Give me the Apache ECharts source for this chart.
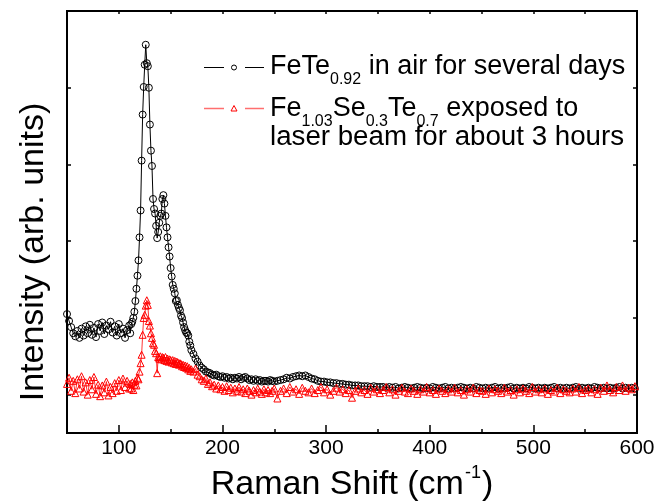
<!DOCTYPE html>
<html>
<head>
<meta charset="utf-8">
<script src="https://cdn.jsdelivr.net/npm/echarts@6/dist/echarts.min.js"></script>
<style>
  html, body { margin: 0; padding: 0; background: #fff; }
  #raman { width: 668px; height: 503px; }
</style>
</head>
<body>
<div id="raman"></div>
<script>
  // Raman shift (cm-1)
  const ramanShift = [
    50, 52, 54, 56, 58, 60, 62, 64, 66, 68,
    70, 72, 74, 76, 78, 80, 82, 84, 86, 88,
    90, 92, 94, 96, 98, 100, 102, 104, 106, 108,
    110,
    111, 112, 113, 114, 115, 116, 117, 118, 119, 120,
    121, 122, 123, 124, 125, 126, 127, 128, 129, 130,
    131, 132, 133, 134, 135, 136, 137, 138, 139, 140,
    141, 142, 143, 144, 145, 146, 147, 148, 149, 150,
    151, 152, 153, 154, 155, 156, 157, 158, 159, 160,
    161, 162, 163, 164, 165, 166, 167, 168, 169, 170,
    172, 174, 176, 178, 180, 182, 184, 186, 188, 190,
    192, 194, 196, 198, 200, 202, 204, 206, 208, 210,
    212, 214, 216, 218, 220, 222, 224, 226, 228, 230,
    232, 234, 236, 238, 240, 242, 244, 246, 248, 250,
    253, 256, 259, 262, 265, 268, 271, 274, 277, 280, 283, 286,
    289, 292, 295, 298, 301, 304, 307, 310, 313, 316, 319, 322,
    325, 328, 331, 334, 337, 340, 343, 346, 349, 352, 355, 358,
    361, 364, 367, 370, 373, 376, 379, 382, 385, 388, 391, 394,
    397, 400, 403, 406, 409, 412, 415, 418, 421, 424, 427, 430,
    433, 436, 439, 442, 445, 448, 451, 454, 457, 460, 463, 466,
    469, 472, 475, 478, 481, 484, 487, 490, 493, 496, 499, 502,
    505, 508, 511, 514, 517, 520, 523, 526, 529, 532, 535, 538,
    541, 544, 547, 550, 553, 556, 559, 562, 565, 568, 571, 574,
    577, 580, 583, 586, 589, 592, 595, 598
  ];

  // FeTe0.92 in air for several days
  const feTeAir = [
    1.55, 1.46, 1.38, 1.30, 1.26, 1.33, 1.24, 1.36, 1.27, 1.39,
    1.30, 1.41, 1.28, 1.37, 1.25, 1.42, 1.33, 1.44, 1.29, 1.40,
    1.35, 1.45, 1.31, 1.39, 1.27, 1.42, 1.30, 1.36, 1.24, 1.34,
    1.40,
    1.30, 1.42, 1.45, 1.50, 1.58, 1.72, 1.88, 2.05, 2.25, 2.55,
    2.90, 3.55, 4.15, 4.51, 4.80, 5.06, 4.82, 4.78, 4.50, 4.02,
    3.68, 3.48, 3.05, 2.92, 2.86, 2.70, 2.54, 2.62, 2.74, 2.83,
    2.86, 3.05, 3.10, 2.99, 2.83, 2.68, 2.55, 2.42, 2.30, 2.15,
    2.04, 1.93, 1.88, 1.82, 1.72, 1.73, 1.67, 1.63, 1.60, 1.53,
    1.50, 1.44, 1.38, 1.34, 1.31, 1.30, 1.27, 1.19, 1.14, 1.08,
    1.03, 0.97, 0.93, 0.88, 0.85, 0.83, 0.80, 0.79, 0.78, 0.76,
    0.75, 0.76, 0.74, 0.73, 0.74, 0.72, 0.73, 0.71, 0.72, 0.70,
    0.72, 0.71, 0.73, 0.70, 0.72, 0.73, 0.71, 0.69, 0.70, 0.68,
    0.70, 0.68, 0.69, 0.67, 0.68, 0.68, 0.67, 0.69, 0.68, 0.67,
    0.68, 0.69, 0.70, 0.72, 0.71, 0.73, 0.74, 0.75, 0.74, 0.75, 0.73, 0.71,
    0.70, 0.68, 0.67, 0.67, 0.66, 0.66, 0.65, 0.65, 0.64, 0.64, 0.63, 0.63,
    0.62, 0.62, 0.62, 0.61, 0.61, 0.61, 0.60, 0.61, 0.60, 0.60, 0.60, 0.59,
    0.60, 0.59, 0.60, 0.58, 0.59, 0.60, 0.59, 0.58, 0.59, 0.60, 0.59, 0.58,
    0.59, 0.58, 0.60, 0.59, 0.58, 0.59, 0.60, 0.58, 0.59, 0.58, 0.59, 0.60,
    0.59, 0.58, 0.59, 0.58, 0.60, 0.59, 0.58, 0.59, 0.58, 0.59, 0.60, 0.58,
    0.59, 0.58, 0.59, 0.60, 0.58, 0.59, 0.58, 0.59, 0.58, 0.60, 0.59, 0.58,
    0.59, 0.58, 0.59, 0.58, 0.59, 0.60, 0.58, 0.59, 0.58, 0.59, 0.58, 0.59,
    0.60, 0.58, 0.59, 0.58, 0.59, 0.58, 0.60, 0.59, 0.58, 0.59, 0.58, 0.59,
    0.58, 0.59, 0.60, 0.58, 0.59, 0.58, 0.59, 0.58
  ];

  // Fe1.03Se0.3Te0.7 exposed to laser beam for about 3 hours
  const feSeTeLaser = [
    0.64, 0.72, 0.55, 0.68, 0.52, 0.70, 0.58, 0.74, 0.54, 0.66,
    0.50, 0.69, 0.57, 0.73, 0.51, 0.63, 0.48, 0.62, 0.53, 0.67,
    0.49, 0.60, 0.52, 0.65, 0.55, 0.69, 0.56, 0.71, 0.60, 0.68,
    0.58,
    0.64, 0.58, 0.66, 0.56, 0.63, 0.68, 0.62, 0.72, 0.70, 0.80,
    0.91, 1.02, 1.28, 1.50, 1.54, 1.66, 1.73, 1.67, 1.46, 1.40,
    1.30, 1.24, 1.17, 1.15, 1.07, 1.04, 0.78, 0.99, 0.97, 1.00,
    0.96, 0.99, 0.98, 0.95, 0.99, 0.94, 0.97, 0.93, 0.96, 0.95,
    0.92, 0.95, 0.91, 0.94, 0.90, 0.93, 0.92, 0.89, 0.91, 0.90,
    0.87, 0.89, 0.86, 0.88, 0.85, 0.87, 0.83, 0.85, 0.81, 0.83,
    0.80, 0.84, 0.76, 0.74, 0.70, 0.68, 0.71, 0.64, 0.66, 0.61,
    0.63, 0.58, 0.62, 0.57, 0.60, 0.55, 0.61, 0.56, 0.59, 0.53,
    0.58, 0.55, 0.60, 0.54, 0.57, 0.52, 0.58, 0.55, 0.50, 0.56,
    0.53, 0.58, 0.54, 0.51, 0.57, 0.53, 0.56, 0.52, 0.55, 0.58,
    0.45, 0.55, 0.58, 0.52, 0.60, 0.54, 0.57, 0.51, 0.59, 0.55, 0.53, 0.58,
    0.52, 0.56, 0.60, 0.53, 0.57, 0.50, 0.55, 0.59, 0.54, 0.57, 0.52, 0.56,
    0.46, 0.55, 0.58, 0.53, 0.56, 0.51, 0.59, 0.54, 0.57, 0.52, 0.56, 0.60,
    0.53, 0.57, 0.50, 0.55, 0.59, 0.54, 0.52, 0.58, 0.55, 0.51, 0.57, 0.54,
    0.60, 0.53, 0.56, 0.51, 0.58, 0.55, 0.52, 0.57, 0.54, 0.59, 0.53, 0.56,
    0.50, 0.57, 0.54, 0.59, 0.52, 0.56, 0.55, 0.51, 0.58, 0.53, 0.57, 0.55,
    0.52, 0.59, 0.54, 0.56, 0.50, 0.57, 0.53, 0.58, 0.55, 0.52, 0.60, 0.54,
    0.57, 0.53, 0.58, 0.51, 0.56, 0.54, 0.59, 0.52, 0.57, 0.55, 0.53, 0.58,
    0.54, 0.60, 0.52, 0.56, 0.58, 0.53, 0.57, 0.51, 0.59, 0.55, 0.62, 0.56,
    0.53, 0.60, 0.56, 0.62, 0.55, 0.59, 0.57, 0.61
  ];

  const xMajorTicks = [100, 200, 300, 400, 500, 600];
  const xMinorTicks = [150, 250, 350, 450, 550];
  const xTopTicks = [100, 150, 200, 250, 300, 350, 400, 450, 500, 550, 600];
  const yTicks = [0.5, 1.5, 2.5, 3.5, 4.5];

  const font = "'Liberation Sans', Arial, sans-serif";

  const chart = echarts.init(document.getElementById('raman'));

  const plainAxis = {
    type: 'value',
    axisLine: {show: false},
    splitLine: {show: false},
    axisLabel: {show: false},
  };

  const legendRich = {
    m: {fontSize: 27, fontFamily: font, fill: '#000', verticalAlign: 'top'},
    s: {fontSize: 16, fontFamily: font, fill: '#000', verticalAlign: 'top', padding: [19, 0, 0, 0]},
  };

  chart.setOption({
    animation: false,
    backgroundColor: '#fff',
    grid: {
      left: 67,
      right: 31,
      top: 11,
      bottom: 70,
      outerBoundsMode: 'none',
      containLabel: false,
      show: true,
      borderColor: '#000',
      borderWidth: 2,
      backgroundColor: 'transparent',
    },
    xAxis: [
      {
        type: 'value',
        min: 50,
        max: 600,
        position: 'bottom',
        axisLine: {show: false},
        splitLine: {show: false},
        axisTick: {
          inside: true,
          length: 8,
          customValues: xMajorTicks,
          lineStyle: {color: '#000', width: 1.5},
        },
        axisLabel: {
          customValues: xMajorTicks,
          color: '#000',
          fontSize: 21,
          fontFamily: font,
          margin: 5,
        },
        name: '{m|Raman Shift (cm}{sup|-1}{m|)}',
        nameLocation: 'middle',
        nameGap: 23,
        nameTextStyle: {
          color: '#000',
          fontFamily: font,
          rich: {
            m: {fontSize: 34, fontFamily: font, color: '#000', verticalAlign: 'top', padding: [4, 0, 0, 0]},
            sup: {fontSize: 18, fontFamily: font, color: '#000', verticalAlign: 'top', padding: [0, 1, 0, 1]},
          },
        },
      },
      Object.assign({}, plainAxis, {
        min: 50,
        max: 600,
        position: 'bottom',
        axisTick: {inside: true, length: 4, customValues: xMinorTicks, lineStyle: {color: '#000', width: 1.5}},
      }),
      Object.assign({}, plainAxis, {
        min: 50,
        max: 600,
        position: 'top',
        axisTick: {inside: true, length: 3, customValues: xTopTicks, lineStyle: {color: '#000', width: 1.5}},
      }),
    ],
    yAxis: [
      Object.assign({}, plainAxis, {
        min: 0,
        max: 5.5,
        position: 'left',
        axisTick: {inside: true, length: 4, customValues: yTicks, lineStyle: {color: '#000', width: 1.5}},
        name: 'Intensity (arb. units)',
        nameLocation: 'middle',
        nameRotate: 90,
        nameGap: 16,
        nameTextStyle: {
          color: '#000',
          fontSize: 34,
          fontFamily: font,
          padding: [0, 60, 0, 0],
        },
      }),
      Object.assign({}, plainAxis, {
        min: 0,
        max: 5.5,
        position: 'right',
        axisTick: {inside: true, length: 4, customValues: yTicks, lineStyle: {color: '#000', width: 1.5}},
      }),
    ],
    series: [
      {
        name: 'FeTe0.92 in air for several days',
        type: 'line',
        xAxisIndex: 0,
        yAxisIndex: 0,
        symbol: 'circle',
        symbolSize: 7,
        showAllSymbol: true,
        itemStyle: {color: 'rgba(0,0,0,0)', borderColor: '#000', borderWidth: 1},
        lineStyle: {color: '#000', width: 1},
        emphasis: {disabled: true},
        data: ramanShift.map((x, i) => [x, feTeAir[i]]),
      },
      {
        name: 'Fe1.03Se0.3Te0.7 exposed to laser beam for about 3 hours',
        type: 'line',
        xAxisIndex: 0,
        yAxisIndex: 0,
        symbol: 'triangle',
        symbolSize: 7,
        showAllSymbol: true,
        itemStyle: {color: 'rgba(0,0,0,0)', borderColor: '#ff0000', borderWidth: 1},
        lineStyle: {color: '#ff0000', width: 0.8},
        emphasis: {disabled: true},
        data: ramanShift.map((x, i) => [x, feSeTeLaser[i]]),
      },
    ],
    graphic: [
      // legend: black circles
      {type: 'line', shape: {x1: 204, y1: 67.5, x2: 224, y2: 67.5}, style: {stroke: '#000', lineWidth: 1}},
      {type: 'circle', shape: {cx: 234, cy: 67.5, r: 2.5}, style: {fill: 'none', stroke: '#000', lineWidth: 1}},
      {type: 'line', shape: {x1: 245, y1: 67.5, x2: 264, y2: 67.5}, style: {stroke: '#000', lineWidth: 1}},
      // legend: red triangles
      {type: 'line', shape: {x1: 204, y1: 108.5, x2: 224, y2: 108.5}, style: {stroke: '#ff6f6f', lineWidth: 1.5}},
      {type: 'polygon', shape: {points: [[234, 105.5], [237, 111], [231, 111]]}, style: {fill: 'none', stroke: '#ff0000', lineWidth: 1}},
      {type: 'line', shape: {x1: 245, y1: 108.5, x2: 264, y2: 108.5}, style: {stroke: '#ff6f6f', lineWidth: 1.5}},
      {
        type: 'text', left: 270, top: 53,
        style: {text: '{m|FeTe}{s|0.92}{m| in air for several days}', rich: legendRich},
      },
      {
        type: 'text', left: 270, top: 95,
        style: {text: '{m|Fe}{s|1.03}{m|Se}{s|0.3}{m|Te}{s|0.7}{m| exposed to}', rich: legendRich},
      },
      {
        type: 'text', left: 270, top: 123,
        style: {text: 'laser beam for about 3 hours', fontSize: 27.7, fontFamily: font, fill: '#000'},
      },
    ],
  });
</script>
</body>
</html>
